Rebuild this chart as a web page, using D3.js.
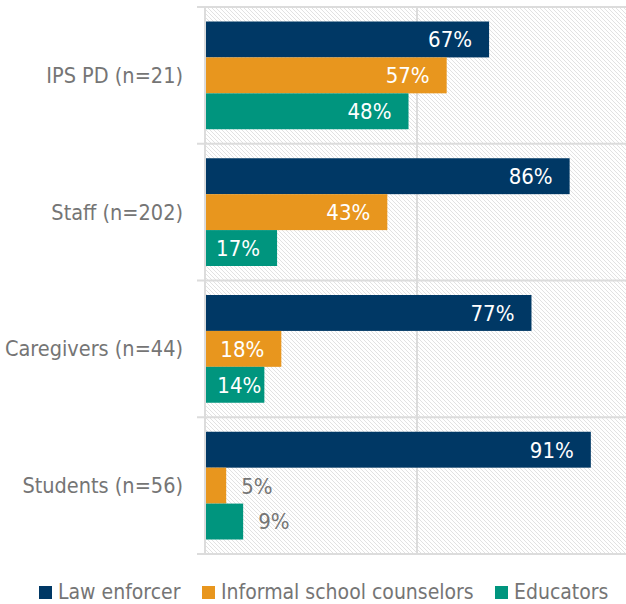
<!DOCTYPE html>
<html>
<head>
<meta charset="utf-8">
<script src="https://cdn.jsdelivr.net/npm/d3@7"></script>
<style>
  body { margin: 0; background: #fff; }
  text { font-family: "DejaVu Sans Condensed", "DejaVu Sans", sans-serif; font-stretch: condensed; }
</style>
</head>
<body>
<svg id="chart" width="626" height="604"></svg>
<script>
// data
const groups = ['IPS PD (n=21)', 'Staff (n=202)', 'Caregivers (n=44)', 'Students (n=56)']
const seriesNames = ['Law enforcer', 'Informal school counselors', 'Educators']
const lawEnforcer = [67, 86, 77, 91]
const counselors = [57, 43, 18, 5]
const educators = [48, 17, 14, 9]
const xTicks = [0, 50, 100]

const colors = ['#003865', '#e8961e', '#00957e']
const seriesValues = [lawEnforcer, counselors, educators]

const margin = { top: 7, left: 205, bottom: 50 }
const W = 626, H = 604
const plotRight = 629
const plotBottom = H - margin.bottom

const svg = d3.select('#chart')

// hatch pattern for the plot background
const defs = svg.append('defs')
const pat = defs.append('pattern')
  .attr('id', 'hatch')
  .attr('patternUnits', 'userSpaceOnUse')
  .attr('width', 4).attr('height', 4)
pat.append('rect').attr('width', 4).attr('height', 4).attr('fill', '#fff')
pat.append('path')
  .attr('d', 'M-1,-1 L5,5 M-1,3 L1,5 M3,-1 L5,1')
  .attr('stroke', '#e2e2e2').attr('stroke-width', 1)

const x = d3.scaleLinear().domain([0, 100]).range([margin.left, plotRight])
const y = d3.scaleBand().domain(groups).range([margin.top, plotBottom])
const pad = 14.5
const yInner = d3.scaleBand().domain(seriesNames).range([pad, y.bandwidth() - pad])

svg.append('rect')
  .attr('x', margin.left).attr('y', margin.top)
  .attr('width', plotRight - margin.left).attr('height', plotBottom - margin.top)
  .attr('fill', 'url(#hatch)')

// vertical gridlines
svg.append('g')
  .selectAll('line')
  .data(xTicks)
  .join('line')
  .attr('x1', d => x(d)).attr('x2', d => x(d))
  .attr('y1', margin.top).attr('y2', plotBottom)
  .attr('stroke', '#dcdcdc').attr('stroke-width', 2)

// horizontal separators at band edges
const edges = groups.map(g => y(g)).concat([plotBottom])
svg.append('g')
  .selectAll('line')
  .data(edges)
  .join('line')
  .attr('x1', margin.left - 8).attr('x2', W)
  .attr('y1', d => d).attr('y2', d => d)
  .attr('stroke', '#dcdcdc').attr('stroke-width', 2)

// category labels
svg.append('g')
  .selectAll('text')
  .data(groups)
  .join('text')
  .attr('x', margin.left - 22)
  .attr('y', d => y(d) + y.bandwidth() / 2)
  .attr('dy', '0.35em')
  .attr('text-anchor', 'end')
  .attr('fill', '#757575')
  .attr('font-size', 21.5)
  .text(d => d)

// bars
const rows = []
groups.forEach((g, gi) => {
  seriesNames.forEach((s, si) => {
    rows.push({ group: g, series: s, value: seriesValues[si][gi], color: colors[si] })
  })
})

const barG = svg.append('g')
barG.selectAll('rect')
  .data(rows)
  .join('rect')
  .attr('x', x(0) + 1)
  .attr('y', d => y(d.group) + yInner(d.series))
  .attr('width', d => x(d.value) - x(0) - 1)
  .attr('height', yInner.bandwidth())
  .attr('fill', d => d.color)

barG.selectAll('text')
  .data(rows)
  .join('text')
  .attr('y', d => y(d.group) + yInner(d.series) + yInner.bandwidth() / 2)
  .attr('dy', '0.36em')
  .attr('text-anchor', d => d.value < 10 ? 'start' : 'end')
  .attr('fill', d => d.value < 10 ? '#757575' : '#fff')
  .attr('font-size', 22)
  .text(d => d.value + '%')
  .attr('x', function (d) {
    if (d.value < 10) return x(d.value) + 15
    const w = this.getComputedTextLength()
    let end = x(d.value) - 17
    // short bars: push the label toward the bar end so it stays inside
    if (end - w < x(0) + 8) end = x(d.value) - 3
    return end
  })

// legend
const legendX = [39, 202, 495]
const legend = svg.append('g')
  .selectAll('g')
  .data(seriesNames)
  .join('g')
  .attr('transform', (d, i) => `translate(${legendX[i]},586)`)
legend.append('rect')
  .attr('width', 13).attr('height', 13)
  .attr('fill', (d, i) => colors[i])
legend.append('text')
  .attr('x', 19).attr('y', 13)
  .attr('fill', '#757575')
  .attr('font-size', 21)
  .text(d => d)
</script>
</body>
</html>
